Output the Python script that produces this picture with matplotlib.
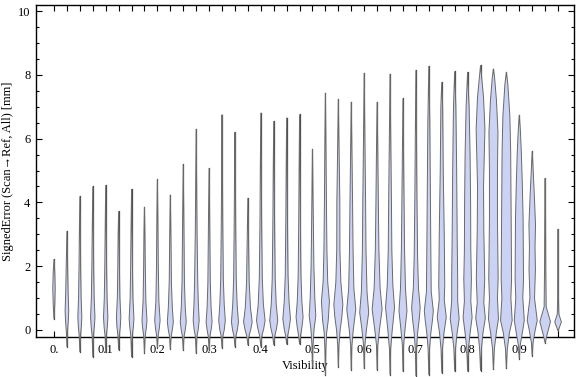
import numpy as np
import matplotlib
matplotlib.use("Agg")
import matplotlib.pyplot as plt

plt.rcParams['font.family'] = ['Liberation Serif', 'DejaVu Serif']

# bin centres (Visibility) of the 40 violins
visibility = [0.000, 0.025, 0.050, 0.075, 0.100, 0.125, 0.150, 0.175, 0.200, 0.225,
              0.250, 0.275, 0.300, 0.325, 0.350, 0.375, 0.400, 0.425, 0.450, 0.475,
              0.500, 0.525, 0.550, 0.575, 0.600, 0.625, 0.650, 0.675, 0.700, 0.725,
              0.750, 0.775, 0.800, 0.825, 0.850, 0.875, 0.900, 0.925, 0.950, 0.975]

# min / max of the signed error in each bin [mm]
err_min = [0.34, -0.53, -0.69, -0.85, -0.69, -0.63, -0.85, -0.72, -0.56, -0.60,
           -0.63, -0.72, -0.63, -0.56, -0.52, -0.47, -0.52, -0.47, -0.45, -0.45,
           -1.15, -1.41, -1.15, -1.25, -1.20, -1.25, -1.41, -1.30, -1.44, -1.41,
           -1.34, -1.30, -1.30, -1.28, -1.22, -1.19, -0.90, -0.82, -0.41, -0.03]
err_max = [2.22, 3.10, 4.19, 4.50, 4.54, 3.72, 4.42, 3.86, 4.72, 4.24,
           5.19, 6.30, 5.07, 6.75, 6.20, 4.14, 6.81, 6.55, 6.66, 6.76,
           5.67, 7.43, 7.23, 7.15, 8.06, 7.15, 8.03, 7.26, 8.15, 8.28,
           7.77, 8.11, 8.09, 8.30, 8.19, 8.08, 6.74, 5.60, 4.76, 3.16]

# density outline: (error value, half width in pixels)
profiles = [
    [(0.8, 0.8), (1.3, 1.2), (1.8, 0.8)],
    [(-0.1, 0.5), (0.3, 1.4), (0.6, 1.8), (1.2, 1.2), (2.0, 0.7)],
    [(-0.2, 0.6), (0.1, 1.5), (0.4, 2.0), (1.0, 1.3), (2.0, 0.8), (3.0, 0.5)],
    [(-0.2, 0.6), (0.1, 1.6), (0.4, 2.2), (1.0, 1.4), (2.0, 0.9), (3.2, 0.5)],
    [(-0.2, 0.6), (0.1, 1.6), (0.4, 2.2), (1.0, 1.4), (2.0, 0.9), (3.2, 0.5)],
    [(-0.2, 0.6), (0.1, 1.7), (0.4, 2.2), (1.0, 1.3), (2.0, 0.8), (3.0, 0.5)],
    [(-0.2, 0.7), (0.1, 1.8), (0.35, 2.4), (1.0, 1.4), (2.0, 0.9), (3.2, 0.5)],
    [(-0.2, 0.7), (0.05, 1.8), (0.3, 2.5), (0.9, 1.4), (2.0, 0.8), (3.0, 0.5)],
    [(-0.2, 0.7), (0.05, 1.9), (0.3, 2.7), (0.9, 1.5), (2.0, 0.9), (3.5, 0.5)],
    [(-0.2, 0.8), (0.0, 2.0), (0.25, 3.0), (0.7, 2.0), (1.5, 1.1), (3.0, 0.6)],
    [(-0.2, 0.8), (0.0, 2.0), (0.25, 3.0), (0.7, 2.0), (1.5, 1.2), (3.5, 0.6)],
    [(-0.2, 0.8), (0.0, 2.0), (0.3, 3.0), (0.8, 2.2), (1.5, 1.6), (3.0, 0.9), (4.5, 0.5)],
    [(-0.2, 0.8), (0.0, 2.0), (0.25, 3.0), (0.7, 2.0), (1.5, 1.2), (3.5, 0.6)],
    [(-0.2, 0.8), (0.0, 2.2), (0.3, 3.3), (0.8, 2.2), (1.6, 1.3), (3.5, 0.7), (5.0, 0.4)],
    [(-0.2, 0.9), (0.0, 2.4), (0.25, 3.5), (0.8, 2.2), (1.6, 1.3), (3.5, 0.7), (5.0, 0.4)],
    [(-0.2, 1.0), (0.0, 2.8), (0.25, 4.3), (0.7, 2.6), (1.5, 1.3), (3.0, 0.6)],
    [(-0.2, 1.0), (0.05, 3.0), (0.3, 4.3), (0.8, 2.6), (1.6, 1.5), (3.5, 0.8), (5.0, 0.5)],
    [(-0.2, 1.0), (0.05, 2.8), (0.3, 4.0), (0.8, 2.5), (1.6, 1.5), (3.5, 0.8), (5.0, 0.5)],
    [(-0.2, 0.9), (0.05, 2.5), (0.35, 3.8), (0.9, 2.4), (1.7, 1.4), (3.5, 0.8), (5.0, 0.5)],
    [(-0.2, 0.9), (0.1, 2.4), (0.4, 3.5), (0.9, 2.3), (1.7, 1.4), (3.5, 0.8), (5.0, 0.5)],
    [(-0.5, 0.5), (0.0, 1.5), (0.45, 3.3), (1.0, 2.3), (2.0, 1.4), (3.5, 0.8)],
    [(-0.6, 0.5), (-0.1, 1.2), (0.3, 2.8), (0.9, 4.0), (1.5, 2.3), (2.5, 1.5), (4.0, 1.0), (6.0, 0.5)],
    [(-0.5, 0.6), (0.0, 1.8), (0.4, 3.5), (0.8, 4.5), (1.5, 2.5), (2.5, 1.6), (4.0, 1.5), (5.5, 0.8)],
    [(-0.5, 0.6), (0.0, 2.0), (0.65, 4.5), (1.3, 2.6), (2.5, 1.8), (4.0, 1.3), (5.5, 0.7)],
    [(-0.5, 0.6), (0.0, 2.2), (0.55, 4.5), (1.2, 2.8), (2.5, 1.8), (4.0, 1.4), (6.0, 0.7)],
    [(-0.5, 0.6), (0.0, 2.3), (0.65, 5.0), (1.3, 3.0), (2.5, 1.8), (4.0, 1.2), (5.5, 0.7)],
    [(-0.6, 0.6), (0.0, 2.2), (0.7, 4.5), (1.4, 2.8), (2.5, 1.8), (4.0, 1.4), (6.0, 0.7)],
    [(-0.5, 0.6), (0.0, 2.0), (0.6, 4.0), (1.3, 2.5), (2.5, 1.6), (4.0, 1.1), (5.5, 0.6)],
    [(-0.6, 0.6), (-0.1, 1.7), (0.3, 3.2), (0.7, 4.3), (1.3, 2.6), (2.3, 1.7), (4.0, 1.1), (6.0, 0.6)],
    [(-0.6, 0.7), (-0.1, 2.0), (0.3, 3.6), (0.6, 4.5), (1.2, 2.4), (2.5, 2.0), (4.5, 1.5), (6.5, 1.0)],
    [(-0.6, 0.7), (-0.1, 2.2), (0.4, 4.5), (0.95, 2.5), (1.4, 3.0), (3.0, 2.5), (5.0, 1.5), (7.0, 0.9)],
    [(-0.6, 0.8), (-0.1, 2.4), (0.35, 4.5), (0.9, 3.0), (1.6, 3.0), (3.0, 2.5), (5.0, 2.0), (7.0, 1.2)],
    [(-0.6, 0.8), (-0.1, 2.5), (0.4, 4.5), (0.9, 3.2), (1.6, 3.8), (2.5, 3.2), (4.0, 3.0), (5.5, 2.5), (7.0, 1.5)],
    [(-0.6, 0.9), (-0.1, 2.4), (0.37, 4.8), (0.85, 3.3), (1.6, 4.2), (3.1, 3.3), (4.5, 3.0), (6.3, 4.4), (7.3, 3.0), (7.9, 1.2)],
    [(-0.6, 0.9), (-0.1, 2.8), (0.35, 5.0), (1.0, 4.0), (1.6, 4.7), (3.5, 4.0), (5.0, 4.0), (6.2, 4.5), (7.2, 3.0), (7.9, 1.2)],
    [(-0.6, 0.9), (-0.1, 3.0), (0.3, 5.8), (1.0, 4.5), (1.6, 5.2), (3.5, 4.8), (5.6, 4.3), (6.7, 3.5), (7.7, 1.5)],
    [(-0.5, 0.8), (-0.1, 3.0), (0.3, 5.0), (1.0, 3.5), (1.6, 4.2), (3.5, 3.8), (4.6, 3.0), (5.6, 2.0), (6.3, 1.0)],
    [(-0.4, 0.8), (0.0, 3.0), (0.3, 5.0), (1.0, 2.3), (1.9, 3.2), (2.6, 2.8), (3.3, 3.3), (4.3, 2.0), (5.1, 0.8)],
    [(-0.2, 1.5), (0.26, 5.3), (0.73, 1.0), (2.0, 0.6), (3.5, 0.4)],
    [(0.25, 3.3), (0.5, 0.8), (1.0, 0.4), (2.0, 0.3)],
]

x_labels = ['0.', '0.1', '0.2', '0.3', '0.4', '0.5', '0.6', '0.7', '0.8', '0.9']
y_ticks = [0, 2, 4, 6, 8, 10]

fig = plt.figure(figsize=(5.76, 3.77), dpi=100)
ax = fig.add_axes([36 / 576, 40 / 377, 538 / 576, 332 / 377])
ax.set_xlim(-0.0348, 1.0058)
ax.set_ylim(-0.22, 10.19)

# data units per pixel along x, so widths read in pixels map onto the axis
x0, x1 = ax.get_xlim()
px_w = fig.get_figwidth() * fig.dpi * ax.get_position().width
dx = (x1 - x0) / px_w

fill_col = '#cbd2f4'
for x, lo, hi, prof in zip(visibility, err_min, err_max, profiles):
    ys = np.array([lo] + [p[0] for p in prof] + [hi])
    ws = np.array([0.0] + [p[1] for p in prof] + [0.0]) * dx
    ax.plot([x, x], [lo, hi], color='#4a4a4a', lw=0.9, clip_on=False, zorder=2)
    ax.fill(np.r_[x + ws, (x - ws)[::-1]], np.r_[ys, ys[::-1]],
            facecolor=fill_col, edgecolor='#6a6a6a', lw=0.7,
            clip_on=False, zorder=3)

# ticks
ax.set_xticks(visibility)
ax.set_xticklabels([x_labels[i // 4] if i % 4 == 0 else '' for i in range(len(visibility))])
ax.set_yticks(y_ticks)
ax.set_yticks(np.arange(0, 10.01, 0.5), minor=True)
ax.tick_params(axis='both', which='both', direction='in', top=True, right=True,
               labelsize=9, width=0.8, colors='black')
ax.tick_params(axis='both', which='major', length=4)
ax.tick_params(axis='y', which='minor', length=2.5)
ax.tick_params(axis='x', which='major', pad=5)
ax.tick_params(axis='y', which='major', pad=4)

for sp in ax.spines.values():
    sp.set_linewidth(1.0)

ax.set_xlabel('Visibility', fontsize=9, labelpad=3)
ax.set_ylabel('SignedError (Scan\u2192Ref, All) [mm]', fontsize=9, labelpad=3)

fig.savefig('out.png', dpi=100)
